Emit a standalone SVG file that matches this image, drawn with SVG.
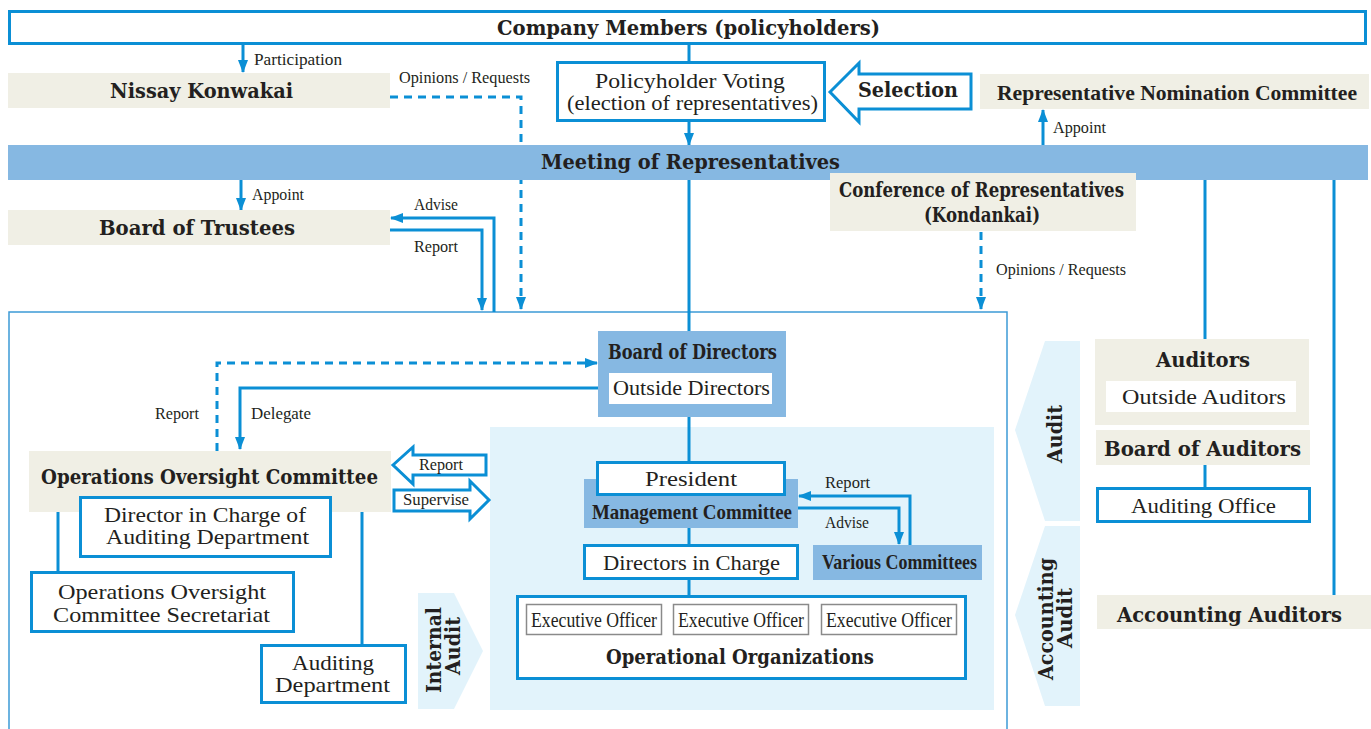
<svg xmlns="http://www.w3.org/2000/svg" width="1371" height="729" viewBox="0 0 1371 729">
<style>
.b{font-family:"DejaVu Serif",serif;font-weight:bold;fill:#231f20;font-size:20px}
.bc{font-family:"Liberation Serif",serif;font-weight:bold;fill:#231f20;font-size:21px}
.r{font-family:"Liberation Serif",serif;fill:#231f20;font-size:21px}
.s{font-family:"Liberation Serif",serif;fill:#231f20;font-size:17px}
.bx{fill:#fff;stroke:#0b8fd5;stroke-width:3}
.bg{fill:#f0efe5}
.bl{fill:#86b8e2}
.lb{fill:#e2f3fb}
.ln{fill:none;stroke:#0b8fd5;stroke-width:3}
.ar{marker-end:url(#ah)}
.da{stroke-dasharray:8 6}
.eo{fill:#fff;stroke:#8a8a8a;stroke-width:1.5}
</style>
<defs>
<marker id="ah" markerWidth="13" markerHeight="10" refX="12" refY="5" orient="auto" markerUnits="userSpaceOnUse"><path d="M0,0 L13,5 L0,10 z" fill="#0b8fd5"/></marker>
</defs>
<rect width="1371" height="729" fill="#fff"/>
<g id="governance-area"><rect x="9" y="312" width="998" height="440" fill="none" stroke="#3d9ad6" stroke-width="1.5"/></g>
<g id="execution-area"><rect class="lb" x="490" y="427" width="504" height="283"/></g>
<g id="internal-audit"><polygon class="lb" points="418,593 454,593 483,651 454,709 418,709"/>
<text class="b" transform="translate(441,650) rotate(-90)" text-anchor="middle" textLength="86" lengthAdjust="spacingAndGlyphs">Internal</text>
<text class="b" transform="translate(460,646) rotate(-90)" text-anchor="middle" textLength="58" lengthAdjust="spacingAndGlyphs">Audit</text></g>
<g id="audit"><polygon class="lb" points="1015,430 1045,341 1080,341 1080,521 1045,521"/>
<text class="b" transform="translate(1062,434) rotate(-90)" text-anchor="middle" textLength="58" lengthAdjust="spacingAndGlyphs">Audit</text></g>
<g id="accounting-audit"><polygon class="lb" points="1015,615 1045,526 1080,526 1080,706 1045,706"/>
<text class="b" transform="translate(1053,619) rotate(-90)" text-anchor="middle" textLength="122" lengthAdjust="spacingAndGlyphs">Accounting</text>
<text class="b" transform="translate(1072,618) rotate(-90)" text-anchor="middle" textLength="60" lengthAdjust="spacingAndGlyphs">Audit</text></g>

<g id="connectors">
<path class="ln ar" d="M243,45 V72"/>
<path class="ln ar da" d="M390,97 H521 V309"/>
<path class="ln" d="M689,45 V62"/>
<path class="ln ar" d="M689,122 V145"/>
<path class="ln ar" d="M1043,145 V110"/>
<path class="ln ar" d="M241,180 V210"/>
<path class="ln ar" d="M494,312 V218 H391"/>
<path class="ln ar" d="M390,230 H482 V310"/>
<path class="ln ar da" d="M981,232 V309"/>
<path class="ln" d="M689,179 V331"/>
<path class="ln" d="M1205,179 V339"/>
<path class="ln" d="M1334,179 V595"/>
<path class="ln ar da" d="M217,451 V363 H597"/>
<path class="ln ar" d="M598,388 H240 V449"/>
<path class="ln" d="M689,417 V462"/>
<path class="ln" d="M58,511 V572"/>
<path class="ln" d="M362,511 V645"/>
<path class="ln ar" d="M910,545 V496 H799"/>
<path class="ln ar" d="M797,508 H899 V544"/>
<path class="ln" d="M689,528 V546"/>
<path class="ln" d="M689,580 V597"/>
<path class="ln" d="M1205,465 V488"/>
<text class="s" x="254" y="65" textLength="88" lengthAdjust="spacingAndGlyphs">Participation</text>
<text class="s" x="399" y="83" textLength="131" lengthAdjust="spacingAndGlyphs">Opinions / Requests</text>
<text class="s" x="1053" y="133" textLength="53" lengthAdjust="spacingAndGlyphs">Appoint</text>
<text class="s" x="252" y="200" textLength="52" lengthAdjust="spacingAndGlyphs">Appoint</text>
<text class="s" x="414" y="210" textLength="44" lengthAdjust="spacingAndGlyphs">Advise</text>
<text class="s" x="414" y="252" textLength="44" lengthAdjust="spacingAndGlyphs">Report</text>
<text class="s" x="996" y="275" textLength="130" lengthAdjust="spacingAndGlyphs">Opinions / Requests</text>
<text class="s" x="155" y="419" textLength="44" lengthAdjust="spacingAndGlyphs">Report</text>
<text class="s" x="251" y="419" textLength="60" lengthAdjust="spacingAndGlyphs">Delegate</text>
<text class="s" x="825" y="488" textLength="45" lengthAdjust="spacingAndGlyphs">Report</text>
<text class="s" x="825" y="528" textLength="44" lengthAdjust="spacingAndGlyphs">Advise</text>
</g>

<g id="company-members"><rect class="bx" x="9.5" y="11.5" width="1356" height="32"/>
<text class="b" x="497" y="35" textLength="383" lengthAdjust="spacingAndGlyphs">Company Members (policyholders)</text></g>
<g id="nissay-konwakai"><rect class="bg" x="8" y="73" width="382" height="35"/>
<text class="b" x="110" y="98" textLength="183" lengthAdjust="spacingAndGlyphs">Nissay Konwakai</text></g>
<g id="policyholder-voting"><rect class="bx" x="557.5" y="62.5" width="267" height="58"/>
<text class="r" x="595" y="88" font-size="20" textLength="190" lengthAdjust="spacingAndGlyphs">Policyholder Voting</text>
<text class="r" x="567" y="110" font-size="20" textLength="251" lengthAdjust="spacingAndGlyphs">(election of representatives)</text></g>
<g id="selection"><polygon class="bx" stroke-width="2.5" points="830,92 859,63 859,74 971,74 971,109 859,109 859,122"/>
<text class="b" x="858" y="97" textLength="100" lengthAdjust="spacingAndGlyphs">Selection</text></g>
<g id="rep-nomination-committee"><rect class="bg" x="980" y="74" width="389" height="35"/>
<text class="bc" x="997" y="100" textLength="360" lengthAdjust="spacingAndGlyphs">Representative Nomination Committee</text></g>
<g id="meeting-of-representatives"><rect class="bl" x="8" y="145" width="1360" height="35"/>
<text class="b" x="541" y="169" textLength="299" lengthAdjust="spacingAndGlyphs">Meeting of Representatives</text></g>
<g id="board-of-trustees"><rect class="bg" x="8" y="210" width="382" height="35"/>
<text class="b" x="99" y="235" textLength="196" lengthAdjust="spacingAndGlyphs">Board of Trustees</text></g>
<g id="conference"><rect class="bg" x="830" y="173" width="306" height="58"/>
<text class="b" x="839" y="197" font-size="19" textLength="285" lengthAdjust="spacingAndGlyphs">Conference of Representatives</text>
<text class="b" x="924" y="222" font-size="19" textLength="116" lengthAdjust="spacingAndGlyphs">(Kondankai)</text></g>

<g id="board-of-directors"><rect class="bl" x="598" y="331" width="188" height="86"/>
<text class="b" x="608" y="359" font-size="18" textLength="169" lengthAdjust="spacingAndGlyphs">Board of Directors</text>
<rect fill="#fff" x="609" y="373" width="163" height="31"/>
<text class="r" x="613" y="395" textLength="157" lengthAdjust="spacingAndGlyphs">Outside Directors</text></g>

<g id="operations-oversight-committee"><rect class="bg" x="29" y="451" width="362" height="61"/>
<text class="b" x="41" y="484" textLength="337" lengthAdjust="spacingAndGlyphs">Operations Oversight Committee</text></g>
<g id="director-auditing"><rect class="bx" x="80.5" y="497.5" width="250" height="59"/>
<text class="r" x="104" y="522" font-size="20" textLength="202" lengthAdjust="spacingAndGlyphs">Director in Charge of</text>
<text class="r" x="106" y="544" font-size="20" textLength="203" lengthAdjust="spacingAndGlyphs">Auditing Department</text></g>
<g id="ooc-secretariat"><rect class="bx" x="31.5" y="572.5" width="262" height="59"/>
<text class="r" x="58" y="599" font-size="20" textLength="208" lengthAdjust="spacingAndGlyphs">Operations Oversight</text>
<text class="r" x="53" y="622" font-size="20" textLength="217" lengthAdjust="spacingAndGlyphs">Committee Secretariat</text></g>
<g id="auditing-department"><rect class="bx" x="261.5" y="645.5" width="144" height="57"/>
<text class="r" x="292" y="670" font-size="20" textLength="82" lengthAdjust="spacingAndGlyphs">Auditing</text>
<text class="r" x="275" y="692" font-size="20" textLength="115" lengthAdjust="spacingAndGlyphs">Department</text></g>
<g id="report-arrow"><polygon class="bx" stroke-width="2.5" points="393,465 413,447 413,455 486,455 486,475 413,475 413,484"/>
<text class="s" x="419" y="470" textLength="44" lengthAdjust="spacingAndGlyphs">Report</text></g>
<g id="supervise-arrow"><polygon class="bx" stroke-width="2.5" points="394,490 470,490 470,481 489,500 470,519 470,511 394,511"/>
<text class="s" x="403" y="505" textLength="66" lengthAdjust="spacingAndGlyphs">Supervise</text></g>

<g id="management-committee"><rect class="bl" x="584" y="479" width="214" height="49"/>
<text class="bc" x="592" y="519" textLength="200" lengthAdjust="spacingAndGlyphs">Management Committee</text></g>
<g id="president"><rect class="bx" x="597.5" y="462.5" width="187" height="32"/>
<text class="r" x="645" y="486" textLength="92" lengthAdjust="spacingAndGlyphs">President</text></g>
<g id="directors-in-charge"><rect class="bx" x="584.5" y="545.5" width="213" height="33"/>
<text class="r" x="603" y="570" textLength="177" lengthAdjust="spacingAndGlyphs">Directors in Charge</text></g>
<g id="various-committees"><rect class="bl" x="813" y="545" width="169" height="35"/>
<text class="bc" x="822" y="569" textLength="155" lengthAdjust="spacingAndGlyphs">Various Committees</text></g>
<g id="operational-organizations"><rect class="bx" x="517.5" y="596.5" width="448" height="82"/>
<rect class="eo" x="526.5" y="604.5" width="135" height="30"/>
<rect class="eo" x="673.5" y="604.5" width="135" height="30"/>
<rect class="eo" x="821.5" y="604.5" width="135" height="30"/>
<text class="r" x="531" y="627" font-size="18" textLength="126" lengthAdjust="spacingAndGlyphs">Executive Officer</text>
<text class="r" x="678" y="627" font-size="18" textLength="126" lengthAdjust="spacingAndGlyphs">Executive Officer</text>
<text class="r" x="826" y="627" font-size="18" textLength="126" lengthAdjust="spacingAndGlyphs">Executive Officer</text>
<text class="b" x="606" y="664" textLength="268" lengthAdjust="spacingAndGlyphs">Operational Organizations</text></g>

<g id="auditors"><rect class="bg" x="1095" y="339" width="214" height="86"/>
<text class="b" x="1156" y="367" textLength="94" lengthAdjust="spacingAndGlyphs">Auditors</text>
<rect fill="#fff" x="1106" y="381" width="190" height="31"/>
<text class="r" x="1122" y="404" textLength="164" lengthAdjust="spacingAndGlyphs">Outside Auditors</text></g>
<g id="board-of-auditors"><rect class="bg" x="1096" y="430" width="214" height="35"/>
<text class="b" x="1104" y="456" textLength="197" lengthAdjust="spacingAndGlyphs">Board of Auditors</text></g>
<g id="auditing-office"><rect class="bx" x="1097.5" y="488.5" width="212" height="33"/>
<text class="r" x="1131" y="513" textLength="145" lengthAdjust="spacingAndGlyphs">Auditing Office</text></g>
<g id="accounting-auditors"><rect class="bg" x="1097" y="595" width="274" height="34"/>
<text class="b" x="1117" y="622" textLength="225" lengthAdjust="spacingAndGlyphs">Accounting Auditors</text></g>
</svg>
